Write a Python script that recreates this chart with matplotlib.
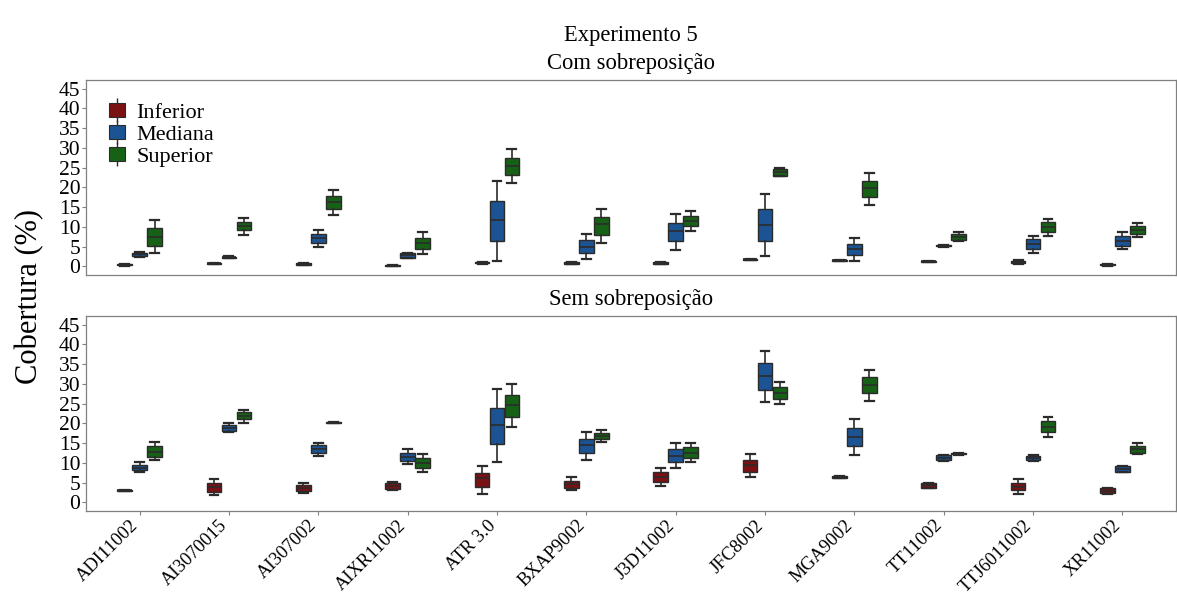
import matplotlib
matplotlib.use('Agg')
import matplotlib.pyplot as plt
import matplotlib.transforms as mtransforms
from matplotlib.patches import Patch
from matplotlib.lines import Line2D
from matplotlib.legend_handler import HandlerTuple

plt.rcParams['font.family'] = ['Liberation Serif', 'DejaVu Serif']

# ---------------- data ----------------
categories = ['ADI11002', 'AI3070015', 'AI307002', 'AIXR11002', 'ATR 3.0', 'BXAP9002',
              'J3D11002', 'JFC8002', 'MGA9002', 'TT11002', 'TTJ6011002', 'XR11002']
series = ['Inferior', 'Mediana', 'Superior']
y_ticks = [0, 5, 10, 15, 20, 25, 30, 35, 40, 45]
title = 'Experimento 5'
panel_titles = ['Com sobreposição', 'Sem sobreposição']
y_label = 'Cobertura (%)'

# (whisker low, Q1, median, Q3, whisker high)
com_inferior = [(0.2, 0.25, 0.4, 0.55, 0.6), (0.55, 0.6, 0.75, 0.9, 0.95), (0.4, 0.45, 0.6, 0.75, 0.8),
                (0.0, 0.05, 0.2, 0.35, 0.4), (0.7, 0.75, 0.9, 1.05, 1.1), (0.55, 0.65, 0.85, 1.0, 1.1),
                (0.6, 0.7, 0.85, 1.0, 1.05), (1.55, 1.6, 1.76, 1.9, 1.95), (1.3, 1.35, 1.5, 1.65, 1.7),
                (1.05, 1.1, 1.26, 1.4, 1.45), (0.6, 0.8, 1.1, 1.4, 1.6), (0.2, 0.25, 0.4, 0.55, 0.6)]
com_mediana = [(2.3, 2.5, 3.0, 3.5, 3.6), (2.1, 2.15, 2.3, 2.45, 2.5), (4.9, 5.8, 7.05, 8.1, 9.2),
               (2.1, 2.2, 2.8, 3.4, 3.5), (1.3, 6.5, 11.7, 16.6, 21.7), (1.8, 3.3, 5.0, 6.6, 8.1),
               (4.1, 6.3, 8.9, 11.1, 13.3), (2.5, 6.3, 10.4, 14.4, 18.2), (1.4, 2.8, 4.5, 5.7, 7.05),
               (5.0, 5.05, 5.2, 5.35, 5.4), (3.5, 4.45, 5.7, 6.9, 7.7), (4.4, 5.2, 6.4, 7.6, 8.7)]
com_superior = [(3.3, 5.2, 7.5, 9.6, 11.7), (8.0, 9.1, 10.2, 11.3, 12.3), (12.9, 14.4, 16.3, 17.7, 19.3),
                (3.1, 4.4, 6.0, 7.3, 8.6), (21.0, 23.1, 25.5, 27.5, 29.6), (5.8, 7.9, 10.7, 12.5, 14.6),
                (9.0, 10.1, 11.4, 12.7, 13.9), (22.8, 23.0, 23.8, 24.6, 24.9), (15.6, 17.5, 19.8, 21.7, 23.7),
                (6.4, 6.6, 7.5, 8.2, 8.7), (7.8, 8.6, 9.9, 11.2, 12.0), (7.5, 8.2, 9.2, 10.2, 10.9)]

sem_inferior = [(2.8, 2.85, 3.0, 3.15, 3.2), (1.9, 2.7, 3.8, 4.9, 5.8), (2.3, 2.8, 3.6, 4.5, 5.0),
                (3.2, 3.4, 4.1, 4.8, 5.1), (2.1, 3.8, 6.1, 7.4, 9.2), (3.0, 3.7, 4.7, 5.4, 6.3),
                (4.2, 5.1, 6.4, 7.6, 8.6), (6.4, 7.7, 9.4, 10.8, 12.3), (6.2, 6.25, 6.4, 6.55, 6.6),
                (3.6, 3.7, 4.3, 4.9, 5.0), (2.1, 3.0, 4.0, 5.0, 6.0), (2.2, 2.3, 2.9, 3.6, 3.7)]
sem_mediana = [(7.6, 8.1, 8.8, 9.5, 10.1), (17.8, 18.1, 18.8, 19.5, 20.0), (11.8, 12.6, 13.5, 14.4, 15.0),
               (9.7, 10.5, 11.6, 12.5, 13.4), (10.2, 14.7, 19.5, 24.0, 28.6), (10.7, 12.5, 14.4, 16.0, 17.8),
               (8.6, 10.2, 11.8, 13.4, 14.9), (25.4, 28.5, 32.0, 35.2, 38.4), (12.0, 14.2, 16.6, 18.9, 21.2),
               (10.5, 10.6, 11.3, 12.0, 12.1), (10.5, 10.6, 11.25, 11.8, 11.9), (7.6, 7.7, 8.4, 9.1, 9.2)]
sem_superior = [(10.6, 11.6, 12.8, 14.3, 15.4), (20.2, 21.0, 21.9, 22.8, 23.5), (20.0, 20.05, 20.2, 20.35, 20.4),
                (7.6, 8.7, 10.0, 11.3, 12.3), (19.2, 21.7, 24.6, 27.2, 29.9), (15.4, 16.0, 16.8, 17.6, 18.2),
                (10.2, 11.3, 12.6, 13.9, 15.1), (24.9, 26.2, 27.8, 29.1, 30.5), (25.7, 27.6, 29.7, 31.7, 33.5),
                (12.1, 12.15, 12.3, 12.45, 12.5), (16.6, 17.7, 19.1, 20.6, 21.7), (12.2, 12.6, 13.4, 14.3, 14.9)]

# ---------------- style ----------------
colors = ['#7a1214', '#1c5393', '#176117']
edge = '#2b2b2b'
spine_col = '#808080'
W, H = 1177, 595

fig = plt.figure(figsize=(W / 100, H / 100), dpi=100)
ax_top = fig.add_axes([86 / W, 1 - 275 / H, 1090 / W, 195 / H])
ax_bot = fig.add_axes([86 / W, 1 - 511 / H, 1090 / W, 195 / H])

dodge = 0.167
box_w = 0.165
cap_w = 0.1


def to_stats(rows):
    return [dict(whislo=r[0], q1=r[1], med=r[2], q3=r[3], whishi=r[4], fliers=[]) for r in rows]


def draw_panel(ax, data_list):
    for k, (rows, col) in enumerate(zip(data_list, colors)):
        pos = [i + (k - 1) * dodge for i in range(len(categories))]
        ax.bxp(to_stats(rows), positions=pos, widths=box_w, capwidths=cap_w,
               patch_artist=True, showfliers=False, manage_ticks=False,
               boxprops=dict(facecolor=col, edgecolor=edge, linewidth=1.0),
               medianprops=dict(color=edge, linewidth=1.2),
               whiskerprops=dict(color=edge, linewidth=1.2),
               capprops=dict(color=edge, linewidth=1.6))
    ax.set_xlim(-0.6, len(categories) - 0.4)
    ax.set_ylim(-2.2, 47.2)
    ax.set_yticks(y_ticks)
    ax.set_yticklabels([str(t) for t in y_ticks], fontsize=15.5)
    ax.set_xticks(range(len(categories)))
    for s in ax.spines.values():
        s.set_color(spine_col)
        s.set_linewidth(0.9)
    ax.tick_params(axis='both', color=spine_col, length=3, width=0.8, pad=1)


draw_panel(ax_top, [com_inferior, com_mediana, com_superior])
draw_panel(ax_bot, [sem_inferior, sem_mediana, sem_superior])

ax_top.tick_params(axis='x', bottom=False, labelbottom=False)
ax_bot.set_xticklabels(categories, rotation=45, ha='right', va='center',
                       rotation_mode='anchor', fontsize=13.3)
ax_bot.tick_params(axis='x', pad=5.5)
shift = mtransforms.ScaledTranslation(-4 / 100, 0, fig.dpi_scale_trans)
for lab in ax_bot.get_xticklabels():
    lab.set_transform(lab.get_transform() + shift)

# legend
handles = []
for col in colors:
    wl = Line2D([], [], color=edge, marker='|', markersize=17, linestyle='none', markeredgewidth=1.0)
    p = Patch(facecolor=col, edgecolor=edge, linewidth=0.8)
    handles.append((wl, p))
ax_top.legend(handles, series, handler_map={tuple: HandlerTuple(ndivide=1)}, numpoints=1,
              loc='upper left', bbox_to_anchor=(0.009, 0.95), frameon=False,
              fontsize=16, handlelength=0.72, handleheight=0.58, handletextpad=0.5,
              labelspacing=0.1, borderaxespad=0.2)

# texts
fig.text(631 / W, 1 - 35 / H, title, ha='center', va='center', fontsize=16.3)
fig.text(631 / W, 1 - 63 / H, panel_titles[0], ha='center', va='center', fontsize=16.3)
fig.text(631 / W, 1 - 299 / H, panel_titles[1], ha='center', va='center', fontsize=16.3)
fig.text(30 / W, 1 - 296 / H, y_label, rotation=90, ha='center', va='center', fontsize=22)

fig.savefig('out.png', dpi=100)
